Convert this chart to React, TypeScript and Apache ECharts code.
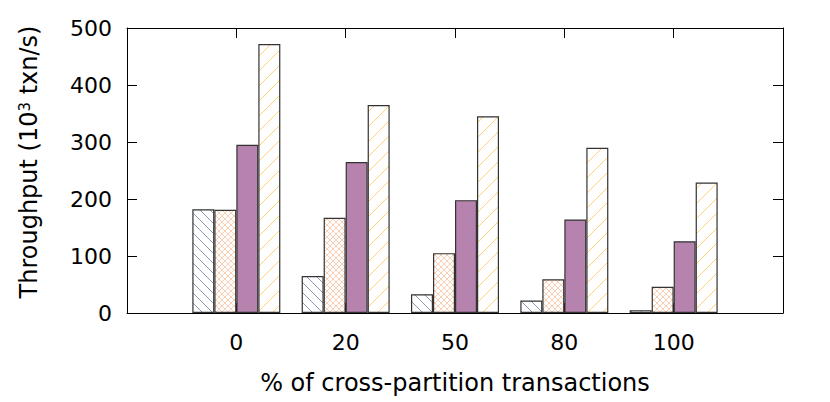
import React, { useEffect, useRef } from "react";
import * as echarts from "echarts";

const categories = ["0", "20", "50", "80", "100"];
const seriesA = [182, 65, 33, 22, 5];
const seriesB = [181, 167, 105, 59, 46];
const seriesC = [295, 265, 198, 164, 126];
const seriesD = [472, 365, 345, 290, 229];
const yTicks = [0, 100, 200, 300, 400, 500];

function makePattern(size: number, color: string, kind: "back" | "fwd" | "cross", lw: number) {
  const c = document.createElement("canvas");
  c.width = size;
  c.height = size;
  const ctx = c.getContext("2d")!;
  ctx.fillStyle = "#ffffff";
  ctx.fillRect(0, 0, size, size);
  ctx.strokeStyle = color;
  ctx.lineWidth = lw;
  const back = () => {
    for (const o of [-size, 0, size]) {
      ctx.beginPath();
      ctx.moveTo(o, 0);
      ctx.lineTo(o + size, size);
      ctx.stroke();
    }
  };
  const fwd = () => {
    for (const o of [-size, 0, size]) {
      ctx.beginPath();
      ctx.moveTo(o, size);
      ctx.lineTo(o + size, 0);
      ctx.stroke();
    }
  };
  if (kind === "back" || kind === "cross") back();
  if (kind === "fwd" || kind === "cross") fwd();
  return { image: c as any, repeat: "repeat", imageWidth: size, imageHeight: size } as any;
}

export default function App() {
  const ref = useRef<HTMLDivElement>(null);
  useEffect(() => {
    if (!ref.current) return;
    const chart = echarts.init(ref.current, undefined, { renderer: "svg" });
    const font = "DejaVu Sans";
    const fs = 22;
    const mk = (name: string, vals: number[], color: any) => ({
      name,
      type: "bar",
      barWidth: 22,
      barGap: "0%",
      data: vals.map((v, i) => [i, v]),
      itemStyle: { color, borderColor: "#333333", borderWidth: 1.2 },
      emphasis: { disabled: true },
    });
    const frameLine = { show: true, onZero: false, lineStyle: { color: "#000", width: 1 } };
    const tick = { show: true, inside: true, length: 10, lineStyle: { color: "#000" } };
    const option: any = {
      animation: false,
      textStyle: { fontFamily: font },
      grid: { left: 127, top: 28, right: 47, bottom: 89, containLabel: false, outerBoundsMode: "none" },
      xAxis: [
        {
          type: "value",
          min: -1,
          max: 5,
          interval: 1,
          splitLine: { show: false },
          axisLine: frameLine,
          axisTick: tick,
          axisLabel: {
            fontSize: fs,
            color: "#000",
            margin: 18,
            fontFamily: font,
            formatter: (v: number) => (categories[v] !== undefined ? categories[v] : ""),
          },
          name: "% of cross-partition transactions",
          nameLocation: "middle",
          nameGap: 58,
          nameTextStyle: { fontSize: 24, color: "#000", fontFamily: font },
        },
        {
          type: "value",
          position: "top",
          min: -1,
          max: 5,
          interval: 1,
          splitLine: { show: false },
          axisLine: frameLine,
          axisTick: tick,
          axisLabel: { show: false },
        },
      ],
      yAxis: [
        {
          type: "value",
          min: yTicks[0],
          max: yTicks[yTicks.length - 1],
          interval: 100,
          splitLine: { show: false },
          axisLine: frameLine,
          axisTick: tick,
          axisLabel: { fontSize: fs, color: "#000", margin: 15, fontFamily: font },
          name: "Throughput (10{sup|3} txn/s)",
          nameLocation: "middle",
          nameGap: 86,
          nameRotate: 90,
          nameTextStyle: {
            fontSize: 24,
            color: "#000",
            fontFamily: font,
            padding: [0, 0, 0, 17],
            rich: {
              sup: { fontSize: 15, color: "#000", fontFamily: font, verticalAlign: "top", lineHeight: 24 },
            },
          },
        },
        {
          type: "value",
          position: "right",
          min: yTicks[0],
          max: yTicks[yTicks.length - 1],
          interval: 100,
          splitLine: { show: false },
          axisLine: frameLine,
          axisTick: tick,
          axisLabel: { show: false },
        },
      ],
      series: [
        mk("A", seriesA, makePattern(10, "#8a9ab6", "back", 1)),
        mk("B", seriesB, makePattern(6, "#f9c3a0", "cross", 0.8)),
        mk("C", seriesC, "#b682ae"),
        mk("D", seriesD, makePattern(15, "#ffd27a", "fwd", 1)),
      ],
    };
    chart.setOption(option);
    return () => chart.dispose();
  }, []);
  return <div ref={ref} style={{ width: 830, height: 402, position: "absolute", left: 0, top: 0 }} />;
}
